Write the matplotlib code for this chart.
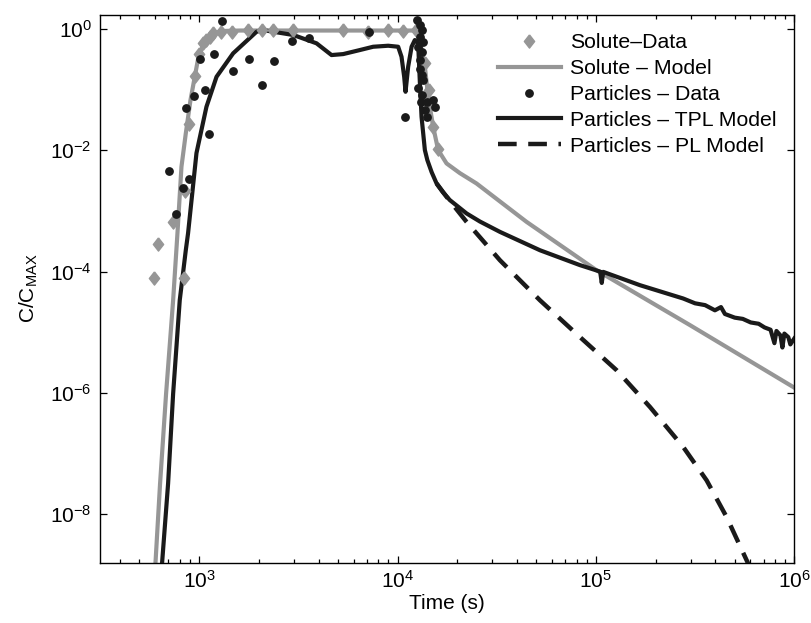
import numpy as np
import matplotlib
matplotlib.use("Agg")
import matplotlib.pyplot as plt
from matplotlib.ticker import LogLocator, NullLocator, NullFormatter, FixedLocator, FixedFormatter

plt.rcParams['font.family'] = ['Liberation Sans', 'DejaVu Sans']
plt.rcParams['mathtext.default'] = 'regular'

# ---------------- data ----------------
# Solute - Data (diamonds)
solute_data_t = [593, 620, 739, 839, 846, 889, 950, 995, 1046, 1088, 1130, 1175, 1295, 1471,
                 1765, 2076, 2364, 2954, 5320, 7110, 8970, 10670, 12370, 13720, 14420, 15120, 16020]
solute_data_c = [7.9e-5, 2.8e-4, 6.6e-4, 7.7e-5, 2.1e-3, 0.027, 0.168, 0.39, 0.58, 0.66, 0.75, 0.85,
                 0.90, 0.90, 0.96, 0.96, 0.96, 0.96, 0.96, 0.90, 0.96, 0.94, 0.96, 0.27, 0.098,
                 0.0244, 0.0107]

# Solute - Model (grey line)
solute_model_t = [589, 602, 635, 681, 739, 777, 814, 856, 904, 950, 999, 1088, 1171, 1300, 1602,
                  12660, 13730, 14270, 15120, 16020, 17660, 20620, 25000, 44720, 100800, 297900, 1.0e6]
solute_model_c = [4e-10, 1.56e-9, 3.18e-8, 9.7e-7, 3.37e-5, 4.26e-4, 5.35e-3, 0.019, 0.0673, 0.163,
                  0.397, 0.658, 0.849, 0.927, 0.944, 0.944, 0.239, 0.0764, 0.0244, 0.0101, 6.08e-3,
                  4.2e-3, 2.84e-3, 6.6e-4, 1.05e-4, 1.31e-5, 1.22e-6]

# Particles - Data (dots)
particle_data_t = [705, 768, 830, 856, 889, 947, 1007, 1067, 1122, 1185, 1305, 1477, 1779, 2076,
                   2370, 2951, 3557, 7166, 10890, 12470, 12960, 13210, 12960, 13460, 12700, 13210,
                   12960, 12960, 13210, 13460, 12700, 13210, 13110, 14000, 15120, 15420, 13730, 14000]
particle_data_c = [4.6e-3, 8.9e-4, 2.35e-3, 0.050, 3.4e-3, 0.078, 0.316, 0.098, 0.0185, 0.387,
                   1.34, 0.205, 0.316, 0.118, 0.30, 0.64, 0.70, 0.90, 0.035, 1.41, 1.16, 0.96,
                   0.75, 0.62, 0.51, 0.42, 0.31, 0.22, 0.174, 0.144, 0.105, 0.081, 0.063, 0.063,
                   0.067, 0.052, 0.046, 0.036]

# Particles - TPL Model (black line)
tpl_t = [631, 650, 697, 739, 798, 856, 879, 969, 1088, 1223, 1483, 1945, 2099, 2985, 3904, 4647,
         5319, 6457, 7534, 8967, 10070, 10470, 10800, 10970, 11310, 11770, 12220, 12700, 12960,
         13210, 13730, 14130, 14850, 15730, 16920, 18350, 22280, 26000, 32810, 52210, 82990, 105000,
         107000, 108800, 166700, 275400, 316000, 355000, 398000, 427000, 447000, 501000, 550000,
         603000, 661000, 708000, 759000, 794000, 813000, 851000, 871000, 891000, 933000, 955000, 1.0e6]
tpl_c = [4.4e-10, 1.56e-9, 3.18e-8, 9.7e-7, 3.37e-5, 2.25e-4, 4.3e-4, 9.0e-3, 0.0522, 0.163, 0.397,
         0.90, 0.96, 0.796, 0.581, 0.372, 0.386, 0.45, 0.51, 0.53, 0.51, 0.349, 0.163, 0.0923, 0.239,
         0.51, 0.658, 0.581, 0.129, 0.0357, 0.0101, 6.9e-3, 4.37e-3, 2.84e-3, 2.04e-3, 1.51e-3,
         9.1e-4, 6.7e-4, 4.52e-4, 2.25e-4, 1.28e-4, 1.0e-4, 6.5e-5, 9.9e-5, 5.97e-5, 3.6e-5, 3.0e-5,
         2.8e-5, 2.3e-5, 2.6e-5, 2.0e-5, 1.74e-5, 1.66e-5, 1.45e-5, 1.38e-5, 1.2e-5, 1.1e-5, 6.6e-6,
         1.05e-5, 8.9e-6, 5.6e-6, 9.5e-6, 8.3e-6, 6.3e-6, 7.9e-6]

# Particles - PL Model (dashed)
pl_t = [15730, 17670, 22280, 32810, 52210, 82990, 127200, 187300, 275600, 361500, 456000, 575400, 631000]
pl_c = [2.84e-3, 1.71e-3, 6.6e-4, 1.54e-4, 3.37e-5, 8.36e-6, 2.36e-6, 5.85e-7, 1.28e-7, 3.61e-8,
        8.95e-9, 1.73e-9, 9e-10]

y_tick_vals = [1e0, 1e-2, 1e-4, 1e-6, 1e-8]
y_tick_labels = ['$10^{0}$', '$10^{-2}$', '$10^{-4}$', '$10^{-6}$', '$10^{-8}$']
x_tick_vals = [1e3, 1e4, 1e5, 1e6]
x_tick_labels = ['$10^{3}$', '$10^{4}$', '$10^{5}$', '$10^{6}$']

# ---------------- plot ----------------
W, H = 812, 623
fig = plt.figure(figsize=(W / 100, H / 100), dpi=100)
ax = fig.add_axes([100 / W, 1 - 562.7 / H, (794.3 - 100) / W, (562.7 - 14.7) / H])

grey = '#969696'
black = '#1a1a1a'
fs = 15
legend_fs = 15.3

diamond = [(0, 1), (0.78, 0), (0, -1), (-0.78, 0), (0, 1)]

ax.plot(solute_model_t, solute_model_c, color=grey, lw=3.0, label='Solute \u2013 Model', zorder=2)
ax.plot(tpl_t, tpl_c, color=black, lw=3.0, label='Particles \u2013 TPL Model', zorder=3)
ax.plot(pl_t, pl_c, color=black, lw=3.2, ls=(0, (4.2, 2.6)), label='Particles \u2013 PL Model', zorder=3)
ax.plot(solute_data_t, solute_data_c, ls='none', marker=diamond, ms=9.5, color=grey, mec=grey,
        label='Solute\u2013Data', zorder=4)
ax.plot(particle_data_t, particle_data_c, ls='none', marker='o', ms=5.3, color=black, mec=black,
        label='Particles \u2013 Data', zorder=5)

ax.set_xscale('log')
ax.set_yscale('log')
ax.set_xlim(10 ** 2.5, 1e6)
ax.set_ylim(10 ** -8.80, 10 ** 0.236)

ax.yaxis.set_major_locator(FixedLocator(y_tick_vals))
ax.yaxis.set_major_formatter(FixedFormatter(y_tick_labels))
ax.yaxis.set_minor_locator(NullLocator())
ax.xaxis.set_major_locator(FixedLocator(x_tick_vals))
ax.xaxis.set_major_formatter(FixedFormatter(x_tick_labels))
ax.xaxis.set_minor_locator(LogLocator(base=10, subs=np.arange(2, 10)))
ax.xaxis.set_minor_formatter(NullFormatter())

ax.tick_params(which='both', direction='in', top=True, right=True, width=0.9, colors='black',
               labelsize=fs)
ax.tick_params(which='major', length=5)
ax.tick_params(which='minor', length=3)
ax.tick_params(axis='y', pad=6)
ax.tick_params(axis='x', pad=5)
for s in ax.spines.values():
    s.set_linewidth(1.0)

ax.set_xlabel('Time (s)', fontsize=fs, labelpad=2)
ax.set_ylabel('C/C$_{MAX}$', fontsize=fs, labelpad=7)

handles, labels = ax.get_legend_handles_labels()
order = ['Solute\u2013Data', 'Solute \u2013 Model', 'Particles \u2013 Data',
         'Particles \u2013 TPL Model', 'Particles \u2013 PL Model']
hmap = dict(zip(labels, handles))
leg = fig.legend([hmap[k] for k in order], order, loc='upper left',
                 bbox_to_anchor=(498 / W, 1 - 33.5 / H), frameon=False, fontsize=legend_fs,
                 borderpad=0, borderaxespad=0, handlelength=2.95, handletextpad=0.42,
                 labelspacing=0.32, numpoints=1)

fig.savefig('out.png', dpi=100)
